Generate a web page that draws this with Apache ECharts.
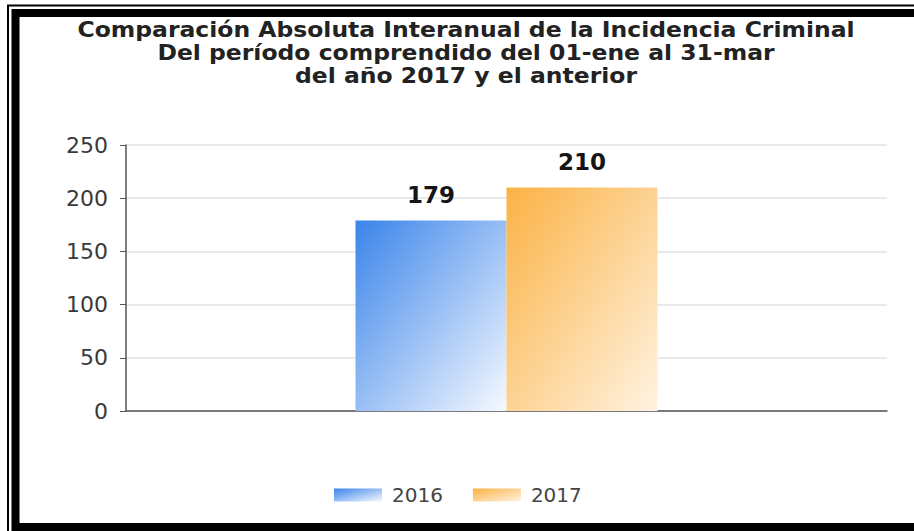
<!DOCTYPE html>
<html>
<head>
<meta charset="utf-8">
<script src="https://cdn.jsdelivr.net/npm/echarts@6/dist/echarts.min.js"></script>
<style>
html,body{margin:0;padding:0;background:#fff;}
#c{width:914px;height:531px;}
</style>
</head>
<body>
<div id="c"></div>
<script>
var titleLines = ['Comparación Absoluta Interanual de la Incidencia Criminal', 'Del período comprendido del 01-ene al 31-mar', 'del año 2017 y el anterior'];
var categories = ['01-ene al 31-mar'];
var seriesNames = ['2016', '2017'];
var values2016 = [179];
var values2017 = [210];
var yTicks = [0, 50, 100, 150, 200, 250];

var chart = echarts.init(document.getElementById('c'), null, {renderer: 'svg'});
function grad(c1, c2) {
  return new echarts.graphic.LinearGradient(0, 0, 1, 1, [
    {offset: 0, color: c1}, {offset: 1, color: c2}
  ]);
}
var font = 'DejaVu Sans';
var option = {
  animation: false,
  backgroundColor: '#fff',
  legend: {
    data: seriesNames,
    left: 329,
    top: 480,
    itemWidth: 48,
    itemHeight: 13,
    itemGap: 30,
    textStyle: {fontFamily: font, fontSize: 20, color: '#444', padding: [0, 0, 0, 5]},
    icon: 'rect'
  },
  grid: {left: 126, right: 27, top: 145, bottom: 120, containLabel: false},
  xAxis: {
    type: 'category',
    data: categories,
    axisLine: {lineStyle: {color: '#555', width: 1.5}},
    axisTick: {alignWithLabel: true, length: 5, lineStyle: {color: '#555'}},
    axisLabel: {show: false},
    splitLine: {show: false}
  },
  yAxis: {
    type: 'value',
    min: yTicks[0],
    max: yTicks[yTicks.length - 1],
    interval: yTicks[1] - yTicks[0],
    axisLine: {show: true, lineStyle: {color: '#555', width: 1.5}},
    axisTick: {show: true, length: 6, lineStyle: {color: '#555'}},
    axisLabel: {fontFamily: font, fontSize: 22, color: '#3a3a3a', margin: 18},
    splitLine: {lineStyle: {color: '#e2e2e2', width: 1.5}}
  },
  series: [
    {
      name: seriesNames[0], type: 'bar', data: values2016,
      barWidth: 151, barGap: '0%',
      itemStyle: {color: grad('#3a84ea', '#f6f9ff')},
      label: {show: true, position: 'top', distance: 14, fontFamily: font, fontWeight: 'bold', fontSize: 23, color: '#151515'}
    },
    {
      name: seriesNames[1], type: 'bar', data: values2017,
      barWidth: 151, barGap: '0%',
      itemStyle: {color: grad('#fbb244', '#fff3e2')},
      label: {show: true, position: 'top', distance: 14, fontFamily: font, fontWeight: 'bold', fontSize: 23, color: '#151515'}
    }
  ],
  graphic: [
    {type: 'rect', shape: {x: 8, y: 5.5, width: 1000, height: 1000}, style: {fill: 'none', stroke: '#000', lineWidth: 2}, silent: true},
    {type: 'rect', shape: {x: 15.5, y: 13, width: 1000, height: 514}, style: {fill: 'none', stroke: '#000', lineWidth: 8}, silent: true},
    {
      type: 'text', x: 466, y: 19, scaleX: 1.146, silent: true,
      style: {
        text: titleLines.join('\n'),
        align: 'center', verticalAlign: 'top',
        fontFamily: font, fontWeight: 'bold', fontSize: 20.5, lineHeight: 23,
        fill: '#222'
      }
    }
  ]
};
chart.setOption(option);
</script>
</body>
</html>
